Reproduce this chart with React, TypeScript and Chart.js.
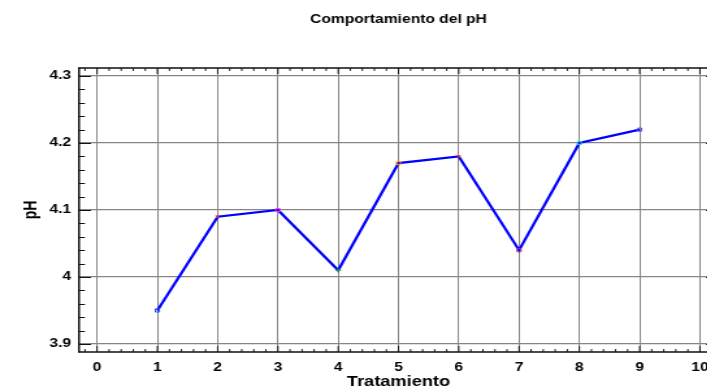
import { useEffect, useRef } from "react";
import { Chart, registerables } from "chart.js";

Chart.register(...registerables);

// Treatments and measured pH
const tratamientos = [1, 2, 3, 4, 5, 6, 7, 8, 9];
const phValues = [3.95, 4.09, 4.1, 4.01, 4.17, 4.18, 4.04, 4.2, 4.22];
const markerStyles = ["rect", "crossRot", "rect", "cross", "rect", "crossRot", "rect", "rect", "rect"];
const markerColors = ["#3040ff", "#ff3b3b", "#ff33cc", "#2ea02e", "#ff9900", "#ff3b3b", "#9a2e9a", "#22d0d0", "#5050e0"];

// Axis ticks
const xTicks = [0, 1, 2, 3, 4, 5, 6, 7, 8, 9, 10];
const yTicks = [3.9, 4.0, 4.1, 4.2, 4.3];

const X_MIN = -0.3;
const X_MAX = 10.3;
const Y_MIN = 3.888;
const Y_MAX = 4.312;
const X_MINOR_STEP = 0.2;
const Y_MINOR_STEP = 0.02;

// Drawing is done on a narrower canvas that is stretched horizontally
const STRETCH = 1.3;
const CANVAS_W = 560;
const CANVAS_H = 392;
const AREA_LEFT = 79 / STRETCH;
const AREA_RIGHT = 718 / STRETCH;
const AREA_TOP = 68;
const AREA_BOTTOM = 352;

const FONT_FAMILY = '"Liberation Sans", Arial, Helvetica, sans-serif';
const TEXT_COLOR = "#000";

const framePlugin = {
  id: "frameAndTicks",
  afterDraw(chart: any) {
    const { ctx, chartArea } = chart;
    const { left, right, top, bottom } = chartArea;
    const xs = chart.scales.x;
    const ys = chart.scales.y;
    ctx.save();

    // minor and major tick marks pointing inward on all four sides
    ctx.strokeStyle = "#111";
    ctx.lineWidth = 1;
    ctx.beginPath();
    const yStart = Math.ceil(Y_MIN / Y_MINOR_STEP - 1e-6);
    const yEnd = Math.floor(Y_MAX / Y_MINOR_STEP + 1e-6);
    for (let i = yStart; i <= yEnd; i++) {
      const v = i * Y_MINOR_STEP;
      const isMajor = yTicks.some((t) => Math.abs(t - v) < 1e-6);
      const len = (isMajor ? 12 : 6) / STRETCH;
      const py = Math.round(ys.getPixelForValue(v)) + 0.5;
      ctx.moveTo(left, py);
      ctx.lineTo(left + len, py);
      ctx.moveTo(right, py);
      ctx.lineTo(right - len, py);
    }
    ctx.stroke();

    ctx.lineWidth = 1 / STRETCH * 1.2;
    ctx.beginPath();
    const xStart = Math.ceil(X_MIN / X_MINOR_STEP - 1e-6);
    const xEnd = Math.floor(X_MAX / X_MINOR_STEP + 1e-6);
    for (let i = xStart; i <= xEnd; i++) {
      const v = i * X_MINOR_STEP;
      const isMajor = xTicks.some((t) => Math.abs(t - v) < 1e-6);
      const len = isMajor ? 6 : 3;
      const px = xs.getPixelForValue(v);
      ctx.moveTo(px, bottom);
      ctx.lineTo(px, bottom - len);
      ctx.moveTo(px, top);
      ctx.lineTo(px, top + len);
    }
    ctx.stroke();

    // plot frame
    ctx.strokeStyle = "#111";
    ctx.lineWidth = 1.5;
    ctx.beginPath();
    ctx.moveTo(left, top);
    ctx.lineTo(right, top);
    ctx.moveTo(left, bottom);
    ctx.lineTo(right, bottom);
    ctx.stroke();
    ctx.lineWidth = 1.6 / STRETCH * 1.2;
    ctx.beginPath();
    ctx.moveTo(left, top - 0.75);
    ctx.lineTo(left, bottom + 0.75);
    ctx.moveTo(right, top - 0.75);
    ctx.lineTo(right, bottom + 0.75);
    ctx.stroke();

    // chart title, centred over the plot area
    ctx.fillStyle = TEXT_COLOR;
    ctx.font = `bold 12px ${FONT_FAMILY}`;
    ctx.textAlign = "center";
    ctx.textBaseline = "middle";
    ctx.fillText("Comportamiento del pH", (left + right) / 2, 20);
    ctx.restore();
  },
};

export default function App() {
  const canvasRef = useRef<HTMLCanvasElement | null>(null);

  useEffect(() => {
    const canvas = canvasRef.current;
    if (!canvas) return;
    const points = tratamientos.map((t, i) => ({ x: t, y: phValues[i] }));
    const chart = new Chart(canvas, {
      type: "line",
      data: {
        datasets: [
          {
            data: points,
            borderColor: "#0000ff",
            borderWidth: 2.2,
            tension: 0,
            fill: false,
            pointStyle: markerStyles as any,
            pointRadius: 2.2,
            pointBorderWidth: 1,
            pointBorderColor: markerColors,
            pointBackgroundColor: "rgba(0,0,0,0)",
          },
        ],
      },
      options: {
        responsive: false,
        animation: false,
        devicePixelRatio: 1,
        layout: {
          padding: { left: 0, top: AREA_TOP, right: CANVAS_W - AREA_RIGHT, bottom: 0 },
        },
        plugins: {
          legend: { display: false },
          tooltip: { enabled: false },
          title: { display: false },
        },
        scales: {
          x: {
            type: "linear",
            min: X_MIN,
            max: X_MAX,
            afterBuildTicks: (scale: any) => {
              scale.ticks = xTicks.map((v) => ({ value: v }));
            },
            afterFit: (scale: any) => {
              scale.height = CANVAS_H - AREA_BOTTOM;
            },
            grid: { color: "#868686", lineWidth: 1.2 / STRETCH * 1.1, drawTicks: false },
            border: { display: false },
            ticks: {
              padding: 8,
              maxRotation: 0,
              autoSkip: false,
              color: TEXT_COLOR,
              font: { family: FONT_FAMILY, size: 12, weight: "bold" },
              callback: (v: any) => String(v),
            },
            title: {
              display: true,
              text: "Tratamiento",
              color: TEXT_COLOR,
              font: { family: FONT_FAMILY, size: 14, weight: "bold" },
              padding: { top: 0, bottom: 1 },
            },
          },
          y: {
            type: "linear",
            min: Y_MIN,
            max: Y_MAX,
            afterBuildTicks: (scale: any) => {
              scale.ticks = yTicks.map((v) => ({ value: v }));
            },
            afterFit: (scale: any) => {
              scale.width = AREA_LEFT;
            },
            grid: { color: "#868686", lineWidth: 1.2, drawTicks: false },
            border: { display: false },
            ticks: {
              padding: 6,
              color: TEXT_COLOR,
              font: { family: FONT_FAMILY, size: 12, weight: "bold" },
              callback: (v: any) => String(Math.round(Number(v) * 10) / 10),
            },
            title: {
              display: true,
              text: "pH",
              color: TEXT_COLOR,
              font: { family: FONT_FAMILY, size: 14, weight: "bold" },
              padding: { top: 15.3, bottom: 0 },
            },
          },
        },
      },
      plugins: [framePlugin],
    });
    return () => chart.destroy();
  }, []);

  return (
    <div
      style={{
        position: "absolute",
        left: 0,
        top: 0,
        width: 707,
        height: 392,
        overflow: "hidden",
        background: "#fff",
      }}
    >
      <div style={{ transform: `scaleX(${STRETCH})`, transformOrigin: "0 0", width: CANVAS_W, height: CANVAS_H }}>
        <canvas ref={canvasRef} width={CANVAS_W} height={CANVAS_H} />
      </div>
    </div>
  );
}
